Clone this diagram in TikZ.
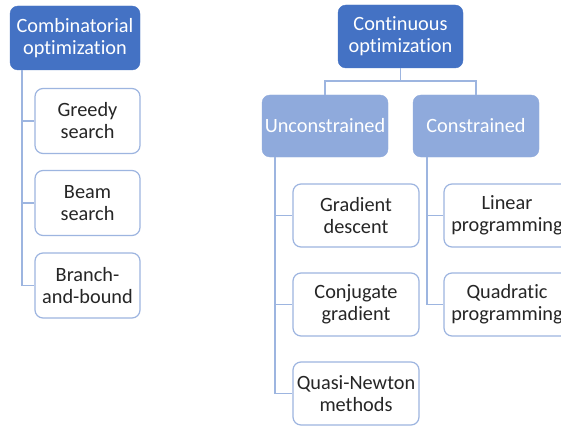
\documentclass[tikz,border=0pt]{standalone}
\usepackage{fontspec}
\setmainfont{Carlito}[Ligatures=NoCommon]
\definecolor{hdark}{HTML}{4472C4}
\definecolor{hlight}{HTML}{8FAADC}
\definecolor{edgeblue}{HTML}{9DB5E0}
\definecolor{txt}{HTML}{262626}
\tikzset{
  box/.style={rounded corners=8pt, align=center, inner sep=0pt,
    font=\fontsize{20.3}{22}\selectfont},
  topbox/.style={box, fill=hdark, draw=hdark, text=white},
  midbox/.style={box, fill=hlight, draw=hlight, text=white},
  leafbox/.style={box, fill=white, draw=edgeblue, line width=1.2pt, text=txt,
    minimum width=126pt, minimum height=63pt},
  conn/.style={draw=edgeblue, line width=1.5pt}
}
\begin{document}
\begin{tikzpicture}[x=1pt,y=-1pt]
\clip (0,0) rectangle (561,425);
\fill[white] (0,0) rectangle (561,425);

% combinatorial branch
\node[topbox, minimum width=130pt, minimum height=64pt] (comb) at (75,38) {Combinatorial\\optimization};
\node[leafbox, minimum width=105pt, minimum height=65pt] (greedy) at (87.5,121) {Greedy\\search};
\node[leafbox, minimum width=105pt, minimum height=65pt] (beam) at (87.5,203) {Beam\\search};
\node[leafbox, minimum width=105pt, minimum height=65pt] (bnb) at (87.5,285.5) {Branch-\\and-bound};

\draw[conn] ([xshift=12pt]comb.south west) |- (greedy.west);
\draw[conn] ([xshift=12pt]comb.south west) |- (beam.west);
\draw[conn] ([xshift=12pt]comb.south west) |- (bnb.west);

% continuous branch
\node[topbox, minimum width=125pt, minimum height=63pt] (cont) at (400.5,36.5) {Continuous\\optimization};
\node[midbox, minimum width=126pt, minimum height=62pt] (uncon) at (325,126) {Unconstrained};
\node[midbox, minimum width=126pt, minimum height=62pt] (con) at (476,126) {Constrained};

\draw[conn] (cont.south) -- ++(0,13) coordinate (fork) -| (uncon.north);
\draw[conn] (fork) -| (con.north);

\node[leafbox] (grad) at (356,215.5) {Gradient\\descent};
\node[leafbox] (conj) at (356,304.5) {Conjugate\\gradient};
\node[leafbox] (quasi) at (356,393.5) {Quasi-Newton\\methods};

\node[leafbox] (lin) at (507,215.5) {Linear\\programming};
\node[leafbox] (quad) at (507,304.5) {Quadratic\\programming};

\draw[conn] ([xshift=13pt]uncon.south west) |- (grad.west);
\draw[conn] ([xshift=13pt]uncon.south west) |- (conj.west);
\draw[conn] ([xshift=13pt]uncon.south west) |- (quasi.west);

\draw[conn] ([xshift=14pt]con.south west) |- (lin.west);
\draw[conn] ([xshift=14pt]con.south west) |- (quad.west);
\end{tikzpicture}
\end{document}
